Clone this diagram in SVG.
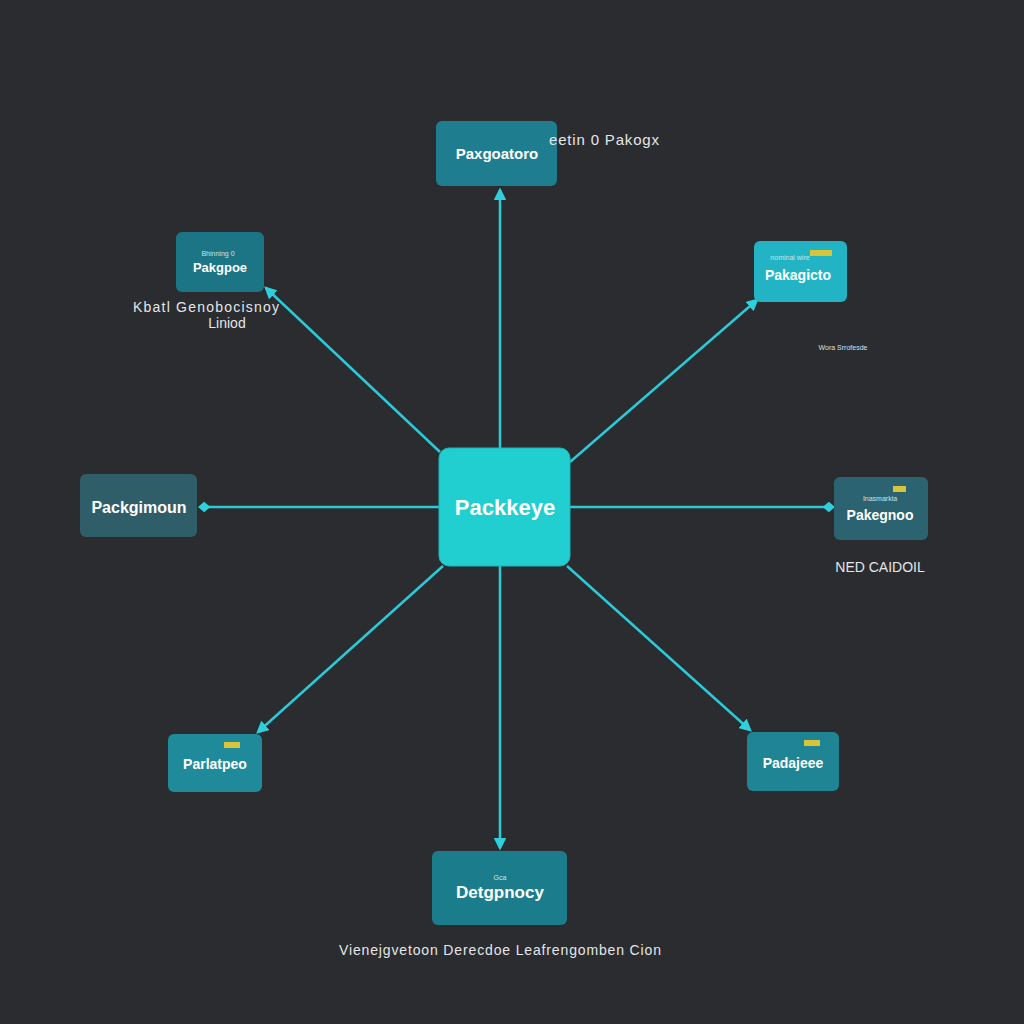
<svg xmlns="http://www.w3.org/2000/svg" width="1024" height="1024" viewBox="0 0 1024 1024">
<defs>
<marker id="tri" viewBox="0 0 10 10" refX="8" refY="5" markerWidth="5" markerHeight="5" orient="auto"><path d="M0,0 L10,5 L0,10 z" fill="#2fd0dc"/></marker>
<marker id="dia" viewBox="0 0 12 10" refX="10" refY="5" markerWidth="5" markerHeight="5" orient="auto"><path d="M0,5 L6,0 L12,5 L6,10 z" fill="#2fd0dc"/></marker>
<style>
.c{stroke:#2ccad8;stroke-width:2.5;fill:none}
.t{font-family:"Liberation Sans",Arial,sans-serif;fill:#ffffff;font-weight:bold;text-anchor:middle}
.s{font-family:"Liberation Sans",Arial,sans-serif;fill:#cfe3e8;font-size:7px;text-anchor:middle}
.l{font-family:"Liberation Sans",Arial,sans-serif;fill:#e4e6e8;font-size:14px;text-anchor:middle}
.b{fill:#d8c43a}
</style>
</defs>
<rect width="1024" height="1024" fill="#2a2c30"/>
<g id="connectors">
<line class="c" x1="500" y1="448" x2="500" y2="190" marker-end="url(#tri)"/>
<line class="c" x1="440" y1="452" x2="266" y2="288" marker-end="url(#tri)"/>
<line class="c" x1="570" y1="462" x2="757" y2="300" marker-end="url(#tri)"/>
<line class="c" x1="439" y1="507" x2="200" y2="507" marker-end="url(#dia)"/>
<line class="c" x1="570" y1="507" x2="833" y2="507" marker-end="url(#dia)"/>
<line class="c" x1="443" y1="566" x2="258" y2="732" marker-end="url(#tri)"/>
<line class="c" x1="567" y1="566" x2="750" y2="730" marker-end="url(#tri)"/>
<line class="c" x1="500" y1="566" x2="500" y2="848" marker-end="url(#tri)"/>
</g>
<g id="center">
<rect x="439" y="448" width="131" height="118" rx="10" fill="#22cfd0" stroke="#1fb5b8" stroke-width="1"/>
<text class="t" x="505" y="515" font-size="22" font-weight="normal">Packkeye</text>
</g>
<g id="top">
<rect x="436" y="121" width="121" height="65" rx="6" fill="#1e7d8f"/>
<text class="t" x="497" y="159" font-size="15">Paxgoatoro</text>
<text x="549" y="145" font-family="Liberation Sans,Arial,sans-serif" font-size="15" fill="#e4e6e8" textLength="110">eetin 0 Pakogx</text>
</g>
<g id="topleft">
<rect x="176" y="232" width="88" height="60" rx="6" fill="#1b7585"/>
<text class="s" x="218" y="256">Bhinning 0</text>
<text class="t" x="220" y="272" font-size="13">Pakgpoe</text>
<text class="l" x="206" y="312" font-size="15" textLength="146">Kbatl Genobocisnoy</text>
<text class="l" x="227" y="328" font-size="12">Liniod</text>
</g>
<g id="topright">
<rect x="754" y="241" width="93" height="61" rx="6" fill="#22b4c4"/>
<rect class="b" x="810" y="250" width="22" height="6"/>
<text class="s" x="790" y="260">nominal wire</text>
<text class="t" x="798" y="280" font-size="14">Pakagicto</text>
<text class="s" x="843" y="350">Wora Srrofesde</text>
</g>
<g id="left">
<rect x="80" y="474" width="117" height="63" rx="6" fill="#2f5e69"/>
<text class="t" x="139" y="513" font-size="16">Packgimoun</text>
</g>
<g id="right">
<rect x="834" y="477" width="94" height="63" rx="6" fill="#2b6470"/>
<rect class="b" x="893" y="486" width="13" height="6"/>
<text class="s" x="880" y="501">Inasmarkia</text>
<text class="t" x="880" y="520" font-size="14">Pakegnoo</text>
<text class="l" x="880" y="572" font-size="15">NED CAIDOIL</text>
</g>
<g id="bottomleft">
<rect x="168" y="734" width="94" height="58" rx="6" fill="#1e8a9a"/>
<rect class="b" x="224" y="742" width="16" height="6"/>
<text class="t" x="215" y="769" font-size="14">Parlatpeo</text>
</g>
<g id="bottomright">
<rect x="747" y="732" width="92" height="59" rx="6" fill="#1f8494"/>
<rect class="b" x="804" y="740" width="16" height="6"/>
<text class="t" x="793" y="768" font-size="14">Padajeee</text>
</g>
<g id="bottom">
<rect x="432" y="851" width="135" height="74" rx="6" fill="#1b7d8c"/>
<text class="s" x="500" y="880" font-size="9">Gca</text>
<text class="t" x="500" y="898" font-size="17" font-weight="normal">Detgpnocy</text>
<text class="l" x="500" y="955" font-size="16" textLength="322">Vienejgvetoon  Derecdoe  Leafrengomben Cion</text>
</g>
</svg>
